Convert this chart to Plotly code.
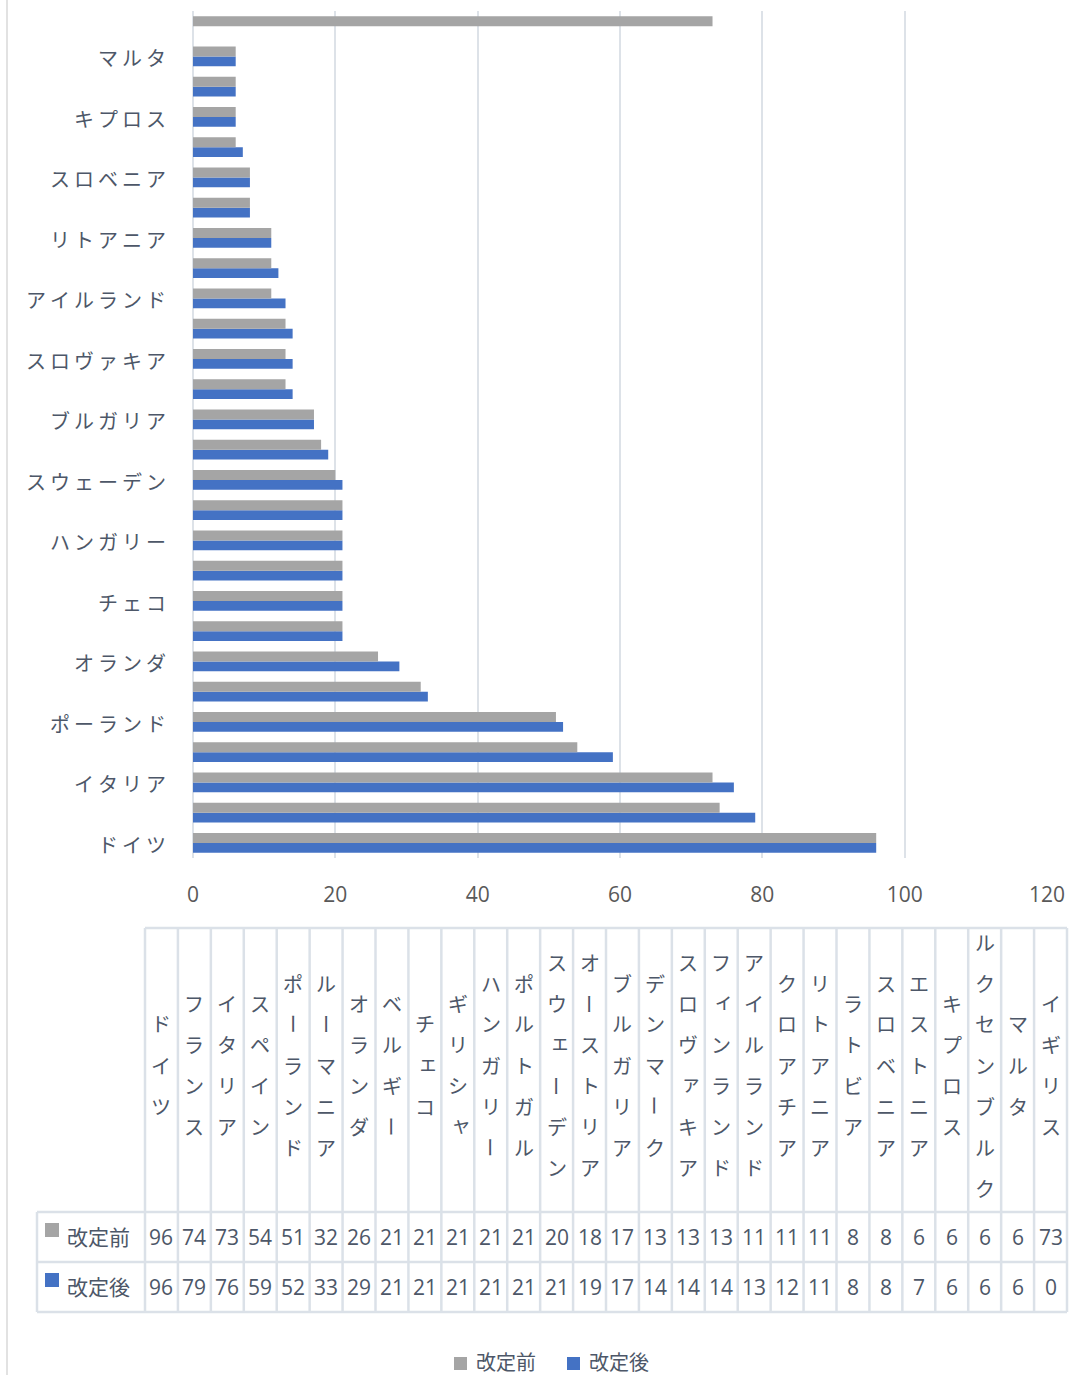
import plotly.graph_objects as go

# ---------------- data ----------------
countries = ["ドイツ", "フランス", "イタリア", "スペイン", "ポーランド", "ルーマニア", "オランダ",
             "ベルギー", "チェコ", "ギリシャ", "ハンガリー", "ポルトガル", "スウェーデン",
             "オーストリア", "ブルガリア", "デンマーク", "スロヴァキア", "フィンランド",
             "アイルランド", "クロアチア", "リトアニア", "ラトビア", "スロベニア", "エストニア",
             "キプロス", "ルクセンブルク", "マルタ", "イギリス"]
before = [96, 74, 73, 54, 51, 32, 26, 21, 21, 21, 21, 21, 20, 18, 17, 13, 13, 13, 11, 11, 11,
          8, 8, 6, 6, 6, 6, 73]
after = [96, 79, 76, 59, 52, 33, 29, 21, 21, 21, 21, 21, 21, 19, 17, 14, 14, 14, 13, 12, 11,
         8, 8, 7, 6, 6, 6, 0]
series_names = ["改定前", "改定後"]
x_ticks = [0, 20, 40, 60, 80, 100, 120]

# ---------------- style ----------------
W, H = 1069, 1375
GRAY = "#a5a5a5"
BLUE = "#4472c4"
TXT = "#4d5768"
GRID = "#dde2e8"
CJK = "Noto Sans CJK JP"
NUM = "Open Sans"


def px(x):
    return x / W


def py(y):
    return 1 - y / H


fig = go.Figure()
fig.add_bar(y=countries, x=after, orientation="h", name=series_names[1],
            marker=dict(color=BLUE, line=dict(width=0)), hoverinfo="x+y")
fig.add_bar(y=countries, x=before, orientation="h", name=series_names[0],
            marker=dict(color=GRAY, line=dict(width=0)), hoverinfo="x+y")

thin = "\u2009"
shown = countries[::2]
fig.update_yaxes(type="category", categoryorder="array", categoryarray=countries,
                 range=[-0.5, len(countries) - 0.5], tickvals=shown,
                 ticktext=[thin.join(c) for c in shown], ticks="", showgrid=False,
                 showline=False, zeroline=False, ticklabelstandoff=26, ticklabelshift=3,
                 automargin=False,
                 tickfont=dict(family=CJK, size=20, color=TXT),
                 domain=[py(858), py(11)])
fig.update_xaxes(range=[0, 120], tickvals=x_ticks, showgrid=True, gridcolor=GRID, gridwidth=2,
                 zeroline=True, zerolinecolor=GRID, zerolinewidth=2, showline=False, ticks="",
                 ticklabelstandoff=22, automargin=False,
                 tickfont=dict(family=NUM, size=21, color="#595959"),
                 domain=[px(193), px(1047)])

# ---------------- data table ----------------
shapes = []
annotations = []
LINE = dict(color="#dbe1e8", width=2.5)
col0 = 145.0
colw = (1067.0 - 145.0) / len(countries)
top, hdr_bot, r1_bot, r2_bot = 928, 1212, 1262, 1312
left = 37

shapes.append(dict(type="line", xref="paper", yref="paper", x0=px(col0), x1=px(1067),
                   y0=py(top), y1=py(top), line=LINE))
for yy in (hdr_bot, r1_bot, r2_bot):
    shapes.append(dict(type="line", xref="paper", yref="paper", x0=px(left), x1=px(1067),
                       y0=py(yy), y1=py(yy), line=LINE))
shapes.append(dict(type="line", xref="paper", yref="paper", x0=px(left), x1=px(left),
                   y0=py(hdr_bot), y1=py(r2_bot), line=LINE))
for i in range(len(countries) + 1):
    xx = col0 + i * colw
    shapes.append(dict(type="line", xref="paper", yref="paper", x0=px(xx), x1=px(xx),
                       y0=py(top), y1=py(r2_bot), line=LINE))

small = set("ァィゥェォャュョ")
for i, name in enumerate(countries):
    cx = col0 + (i + 0.5) * colw
    n = len(name)
    for k, ch in enumerate(name):
        cy = 1065 + (k - (n - 1) / 2) * 41
        xs, ys = (3, 3) if ch in small else (0, 0)
        annotations.append(dict(xref="paper", yref="paper", x=px(cx), y=py(cy), text=ch,
                                showarrow=False, xanchor="center", yanchor="middle",
                                xshift=xs, yshift=ys, textangle=90 if ch == "ー" else 0,
                                font=dict(family=CJK, size=20, color=TXT)))
    for vals, rc in ((before, 1237), (after, 1287)):
        annotations.append(dict(xref="paper", yref="paper", x=px(cx), y=py(rc),
                                text=str(vals[i]), showarrow=False, xanchor="center",
                                yanchor="middle", font=dict(family=NUM, size=21, color=TXT)))

for nm, col, rc in ((series_names[0], GRAY, 1236), (series_names[1], BLUE, 1286)):
    shapes.append(dict(type="rect", xref="paper", yref="paper", x0=px(45), x1=px(59),
                       y0=py(rc - 13), y1=py(rc + 1), fillcolor=col, line=dict(width=0)))
    annotations.append(dict(xref="paper", yref="paper", x=px(65), y=py(rc), text=nm,
                            showarrow=False, xanchor="left", yanchor="middle",
                            font=dict(family=CJK, size=21, color=TXT)))

# ---------------- legend (bottom centre) ----------------
for nm, col, x0 in ((series_names[0], GRAY, 454), (series_names[1], BLUE, 567)):
    shapes.append(dict(type="rect", xref="paper", yref="paper", x0=px(x0), x1=px(x0 + 13),
                       y0=py(1357), y1=py(1370), fillcolor=col, line=dict(width=0)))
    annotations.append(dict(xref="paper", yref="paper", x=px(x0 + 20), y=py(1361), text=nm,
                            showarrow=False, xanchor="left", yanchor="middle",
                            font=dict(family=CJK, size=20, color=TXT)))

# outer chart-area border on the left
shapes.append(dict(type="line", xref="paper", yref="paper", x0=px(7), x1=px(7), y0=0, y1=1,
                   line=dict(color="#d9d9d9", width=1.5)))

fig.update_layout(
    width=W, height=H, autosize=False,
    margin=dict(l=0, r=0, t=0, b=0, pad=0),
    paper_bgcolor="white", plot_bgcolor="white",
    barmode="group", bargap=0.34, bargroupgap=0,
    shapes=shapes, annotations=annotations,
    showlegend=False,
)

fig.write_html("out.html")
